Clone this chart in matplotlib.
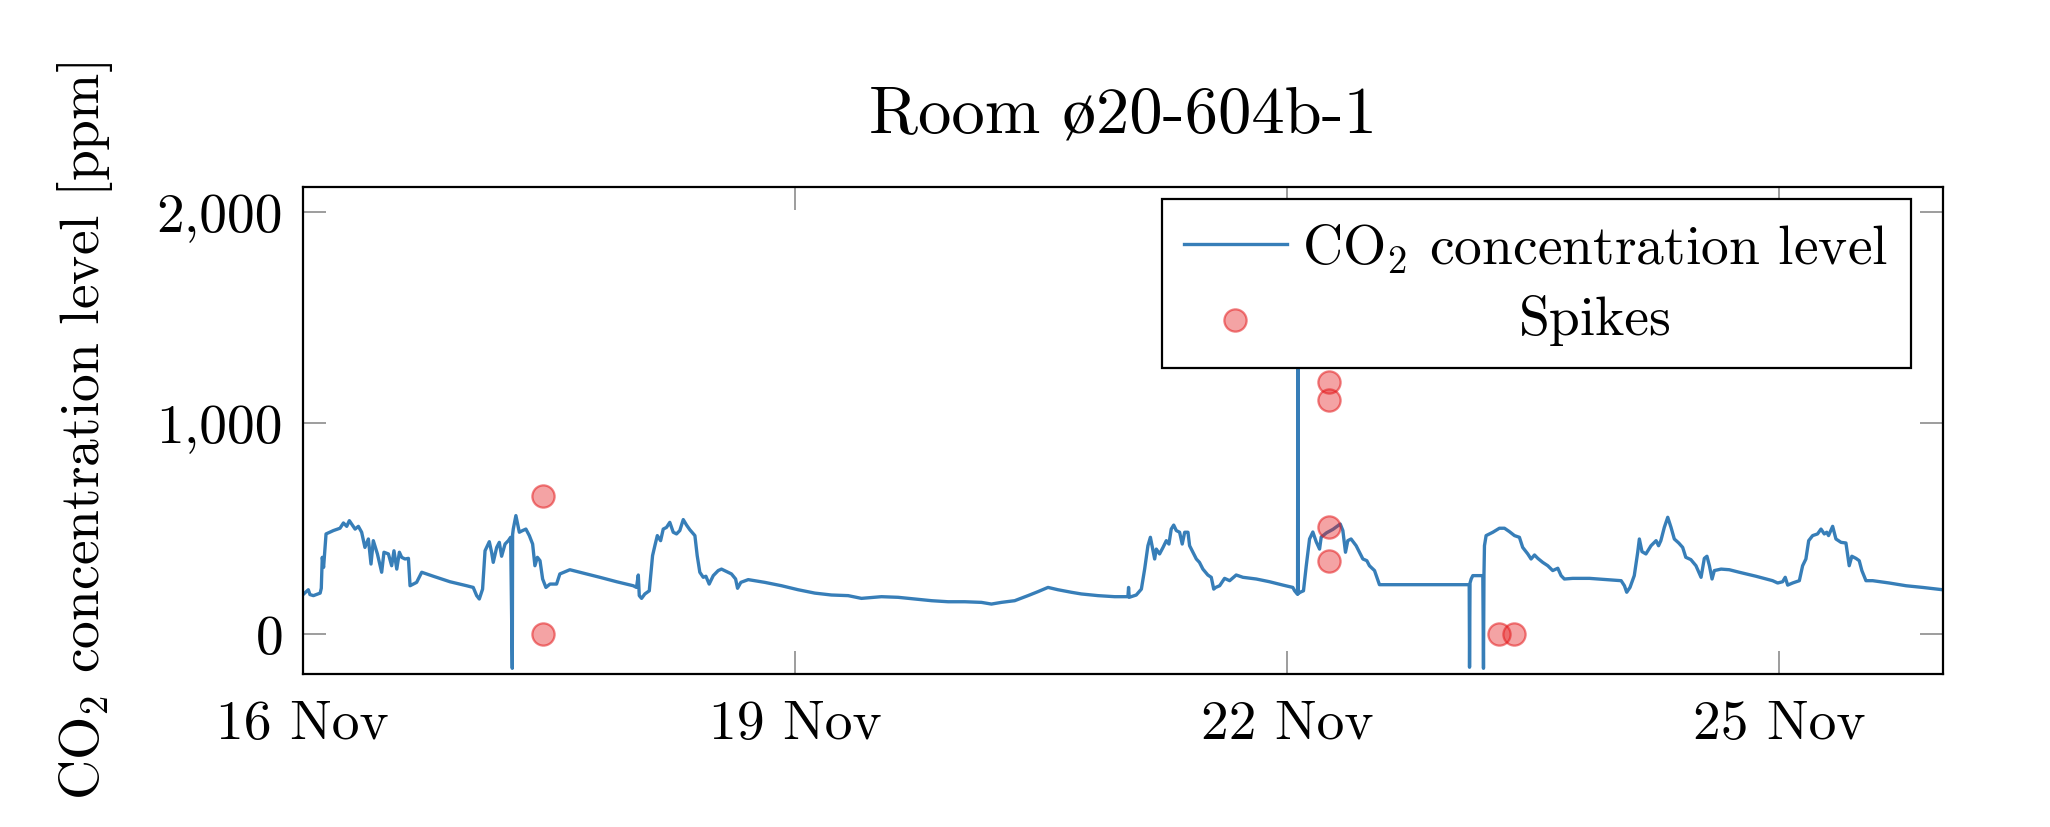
import pandas as pd
import matplotlib
matplotlib.use("Agg")
import matplotlib.pyplot as plt
import matplotlib.dates as mdates
from matplotlib.colors import to_rgb
from matplotlib.ticker import FuncFormatter
from matplotlib.transforms import Affine2D

start = pd.Timestamp("2022-11-16")

# days since 16 Nov 00:00 and CO2 reading (ppm)
co2_days = [
    0.000, 0.035, 0.045, 0.066, 0.107, 0.114, 0.120, 0.128, 0.143, 0.188,
    0.228, 0.249, 0.269, 0.285, 0.320, 0.340, 0.360, 0.380, 0.401, 0.417,
    0.431, 0.456, 0.482, 0.496, 0.523, 0.543, 0.557, 0.574, 0.590, 0.604,
    0.624, 0.645, 0.655, 0.675, 0.695, 0.726, 0.797, 0.898, 1.000, 1.040,
    1.061, 1.077, 1.097, 1.112, 1.138, 1.152, 1.162, 1.183, 1.199, 1.213,
    1.234, 1.254, 1.268, 1.278, 1.280, 1.284, 1.300, 1.321, 1.341, 1.361,
    1.382, 1.402, 1.416, 1.431, 1.447, 1.463, 1.483, 1.508, 1.548, 1.568,
    1.629, 1.710, 1.812, 1.914, 2.015, 2.035, 2.046, 2.052, 2.066, 2.086,
    2.113, 2.133, 2.147, 2.162, 2.182, 2.198, 2.218, 2.238, 2.259, 2.279,
    2.299, 2.320, 2.340, 2.360, 2.391, 2.405, 2.421, 2.442, 2.458, 2.478,
    2.503, 2.533, 2.553, 2.614, 2.639, 2.651, 2.671, 2.716, 2.817, 2.919,
    3.020, 3.122, 3.223, 3.325, 3.406, 3.528, 3.630, 3.731, 3.833, 3.934,
    4.036, 4.137, 4.198, 4.259, 4.340, 4.421, 4.482, 4.543, 4.604, 4.685,
    4.746, 4.848, 4.949, 5.030, 5.034, 5.038, 5.081, 5.112, 5.132, 5.152,
    5.167, 5.179, 5.193, 5.203, 5.223, 5.244, 5.264, 5.280, 5.294, 5.309,
    5.325, 5.345, 5.361, 5.376, 5.396, 5.406, 5.426, 5.447, 5.466, 5.487,
    5.517, 5.538, 5.553, 5.565, 5.589, 5.619, 5.650, 5.690, 5.731, 5.812,
    5.893, 5.975, 6.035, 6.046, 6.064, 6.066, 6.068, 6.078, 6.088, 6.100,
    6.117, 6.137, 6.157, 6.178, 6.198, 6.208, 6.240, 6.280, 6.324, 6.340,
    6.356, 6.370, 6.390, 6.421, 6.441, 6.462, 6.486, 6.502, 6.533, 6.563,
    7.102, 7.110, 7.112, 7.115, 7.122, 7.132, 7.193, 7.197, 7.200, 7.203,
    7.213, 7.233, 7.254, 7.294, 7.325, 7.355, 7.386, 7.416, 7.436, 7.467,
    7.487, 7.508, 7.528, 7.558, 7.589, 7.619, 7.650, 7.670, 7.690, 7.741,
    7.843, 7.944, 8.036, 8.056, 8.070, 8.090, 8.116, 8.137, 8.147, 8.163,
    8.187, 8.218, 8.249, 8.264, 8.278, 8.299, 8.320, 8.340, 8.360, 8.387,
    8.411, 8.430, 8.461, 8.492, 8.523, 8.543, 8.559, 8.574, 8.590, 8.604,
    8.645, 8.695, 8.756, 8.858, 8.959, 8.990, 9.020, 9.036, 9.051, 9.081,
    9.122, 9.142, 9.162, 9.179, 9.203, 9.233, 9.254, 9.274, 9.289, 9.300,
    9.325, 9.345, 9.376, 9.406, 9.426, 9.442, 9.467, 9.487, 9.503, 9.528,
    9.569, 9.670, 9.772, 9.873, 9.995,
]
co2_ppm = [
    183, 208, 185, 180, 192, 215, 362, 314, 473, 489,
    500, 525, 509, 536, 496, 509, 481, 409, 449, 330,
    441, 378, 291, 386, 378, 322, 393, 306, 386, 362,
    354, 357, 227, 235, 243, 291, 272, 246, 227, 219,
    180, 164, 211, 393, 436, 386, 338, 409, 433, 367,
    425, 441, 457, -165, 470, 496, 560, 481, 489, 496,
    465, 425, 322, 362, 346, 259, 219, 235, 235, 283,
    303, 287, 267, 246, 227, 219, 278, 180, 167, 188,
    203, 370, 417, 465, 441, 496, 504, 528, 481, 473,
    489, 541, 515, 493, 465, 370, 291, 267, 272, 235,
    275, 299, 306, 283, 259, 215, 243, 256, 243, 227,
    208, 192, 183, 180, 167, 175, 172, 164, 156, 151,
    151, 148, 140, 148, 156, 180, 199, 219, 208, 196,
    188, 180, 175, 175, 219, 172, 183, 211, 306, 417,
    457, 409, 354, 401, 378, 409, 441, 425, 496, 515,
    489, 481, 425, 481, 481, 417, 386, 354, 338, 306,
    278, 267, 211, 219, 227, 262, 251, 278, 267, 259,
    246, 230, 219, 203, 186, 1800, 190, 195, 199, 203,
    322, 449, 482, 435, 401, 458, 478, 495, 520, 489,
    386, 441, 449, 417, 386, 354, 346, 322, 299, 232,
    232, 232, -160, 240, 259, 275, 275, -165, 280, 417,
    465, 473, 481, 500, 500, 484, 465, 457, 409, 378,
    354, 373, 357, 338, 322, 299, 310, 275, 259, 262,
    262, 256, 251, 227, 196, 219, 275, 386, 449, 389,
    378, 417, 441, 417, 441, 504, 552, 504, 449, 430,
    409, 362, 351, 322, 267, 357, 367, 322, 259, 299,
    306, 303, 291, 272, 251, 240, 246, 267, 230, 240,
    251, 322, 354, 441, 465, 473, 496, 473, 481, 465,
    509, 449, 433, 430, 322, 367, 357, 346, 299, 251,
    251, 240, 227, 219, 208,
]

# detected spikes
spike_days = [1.467, 1.467, 6.255, 6.255, 6.257, 6.255, 7.294, 7.385]
spike_ppm = [655, 0, 1193, 1111, 507, 344, 0, 0]

y_ticks = [0, 1000, 2000]

plt.rcParams["font.family"] = ["cmr10", "DejaVu Serif"]
plt.rcParams["mathtext.fontset"] = "cm"
plt.rcParams["axes.unicode_minus"] = False
plt.rcParams["axes.formatter.use_mathtext"] = True
plt.rcParams["font.size"] = 10

blue = "#377eb8"
red = to_rgb("#e41a1c")

t = start + pd.to_timedelta(co2_days, unit="D")
ts = start + pd.to_timedelta(spike_days, unit="D")

fig, ax = plt.subplots(figsize=(5.125, 2.07), dpi=400)
fig.subplots_adjust(left=0.1476, right=0.948, top=0.7729, bottom=0.1848)

ax.plot(t, co2_ppm, color=blue, lw=0.6, label="CO$_2$ concentration level", zorder=2)
ax.scatter(ts, spike_ppm, s=16, facecolor=(*red, 0.4), edgecolor=(*red, 0.55),
           linewidths=0.4, label="Spikes", zorder=3)

ax.set_xlim(start, start + pd.Timedelta(days=10))
ax.set_ylim(-192, 2120)
ax.set_yticks(y_ticks)
ax.yaxis.set_major_formatter(FuncFormatter(lambda v, p: f"{v:,.0f}"))
ax.xaxis.set_major_locator(mdates.DayLocator(bymonthday=[16, 19, 22, 25]))
ax.xaxis.set_major_formatter(mdates.DateFormatter("%d %b"))

ax.tick_params(direction="in", length=4.2, width=0.3, color="#8c8c8c",
               top=True, right=True)
ax.tick_params(axis="y", pad=3.5)
ax.tick_params(axis="x", pad=4.5)
for s in ax.spines.values():
    s.set_linewidth(0.4)
    s.set_color("black")

ax.set_title("Room ø20-604b-1", pad=10, family=["cmr10", "STIXGeneral"])
ax.set_ylabel("CO$_2$ concentration level [ppm]", labelpad=7.5)

leg = ax.legend(loc="upper right", bbox_to_anchor=(0.98, 0.975), fancybox=False,
                edgecolor="black", framealpha=1, borderpad=0.4, handlelength=1.85,
                handletextpad=0.28, labelspacing=0.35, borderaxespad=0)
leg.get_frame().set_linewidth(0.4)

# pgfplots centres the legend text, so shift "Spikes" to the column centre
fig.canvas.draw()
r = fig.canvas.get_renderer()
txts = leg.get_texts()
b0 = txts[0].get_window_extent(r)
b1 = txts[1].get_window_extent(r)
dx = (b0.x0 + b0.x1) / 2 - (b1.x0 + b1.x1) / 2
txts[1].set_transform(txts[1].get_transform() + Affine2D().translate(dx, 0))

fig.savefig("out.png", dpi=400)
